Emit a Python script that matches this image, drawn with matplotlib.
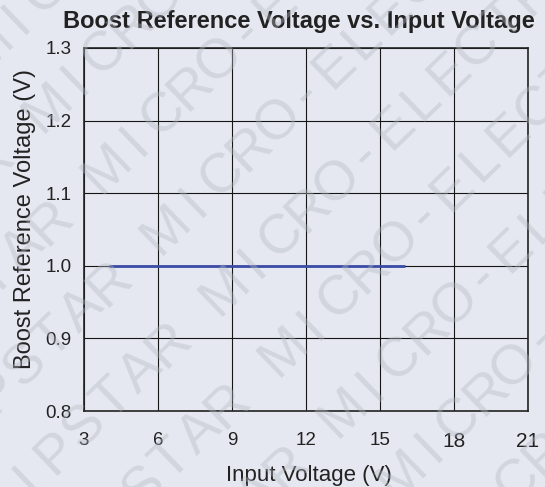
import numpy as np
import matplotlib
matplotlib.use("Agg")
import matplotlib.pyplot as plt

# values
vin = [4, 5, 6, 7, 8, 9, 10, 11, 12, 13, 14, 15, 16]
vref = [1.0, 1.0, 1.0, 1.0, 1.0, 1.0, 1.0, 1.0, 1.0, 1.0, 1.0, 1.0, 1.0]

x_ticks = [3, 6, 9, 12, 15, 18, 21]
y_ticks = [0.8, 0.9, 1.0, 1.1, 1.2, 1.3]
y_tick_labels = ["0.8", "0.9", "1.0", "1.1", "1.2", "1.3"]

title = "Boost Reference Voltage vs. Input Voltage"
x_label = "Input Voltage (V)"
y_label = "Boost Reference Voltage (V)"
watermark = "CHIPSTAR MICRO-ELECTRONICS"

W, H = 545, 487
BG = "#e5e8f0"
INK = "#222222"

plt.rcParams["font.family"] = ["Liberation Sans", "DejaVu Sans"]


def fx(x):
    return x / W


def fy(y):
    return 1 - y / H


fig = plt.figure(figsize=(W / 100, H / 100), dpi=100, facecolor=BG)
ax = fig.add_axes([fx(84), fy(411), 444 / W, 363 / H])
ax.set_facecolor("none")

ax.plot(vin, vref, color="#3b4ba6", lw=2.0, solid_capstyle="butt", zorder=3)

ax.set_xlim(3, 21)
ax.set_ylim(0.8, 1.3)
ax.set_xticks(x_ticks)
ax.set_yticks(y_ticks)
ax.set_yticklabels(y_tick_labels)
ax.grid(True, color="#151515", lw=0.8, zorder=1)
ax.set_axisbelow(True)
for sp in ax.spines.values():
    sp.set_color("#222222")
    sp.set_linewidth(1.2)

ax.tick_params(length=0, labelsize=13.5, labelcolor=INK)
ax.tick_params(axis="x", pad=15)
ax.tick_params(axis="y", pad=9)
for lab in ax.get_xticklabels():
    if lab.get_text() in ("18", "21"):
        lab.set_fontsize(15)

fig.text(fx(299), fy(28), title, fontsize=17, fontweight="bold", color=INK,
         ha="center", va="baseline")
fig.text(fx(309), fy(481), x_label, fontsize=16, color=INK,
         ha="center", va="baseline")
fig.text(fx(31), fy(219), y_label, fontsize=17, color=INK, rotation=90,
         rotation_mode="anchor", ha="center", va="baseline")

# diagonal watermark, one character at a time
ang = np.deg2rad(44)
step = 39
s_m = -40
for d in np.arange(281 - 85 * 4, 281 + 85 * 6, 85):
    for i, ch in enumerate(watermark):
        if ch == " ":
            continue
        s = s_m + (i - 9) * step
        x = s * np.cos(ang) + d * np.sin(ang)
        y = -s * np.sin(ang) + d * np.cos(ang)
        if -50 < x < W + 50 and -50 < y < H + 50:
            fig.text(fx(x), fy(y), ch, fontsize=40, color="#b4b8c0", alpha=0.4,
                     family=["Liberation Sans Narrow", "Liberation Sans"],
                     rotation=44, rotation_mode="anchor", ha="center", va="center",
                     zorder=10)

fig.savefig("out.png", dpi=100, facecolor=BG)
